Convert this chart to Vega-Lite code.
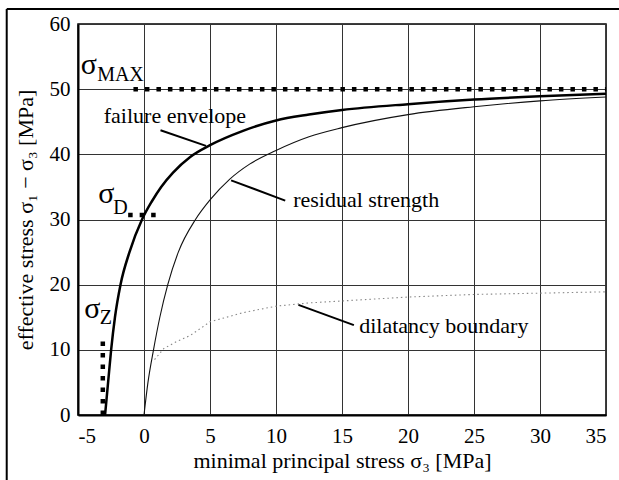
{
  "$schema": "https://vega.github.io/schema/vega-lite/v6.json",
  "width": 528,
  "height": 391,
  "autosize": {"type": "none"},
  "padding": {"left": 78, "top": 24, "right": 13, "bottom": 65},
  "background": "white",
  "config": {
    "font": "Times New Roman, Liberation Serif, serif",
    "view": {"stroke": "black", "strokeWidth": 1.5},
    "axis": {
      "labelFont": "Times New Roman, Liberation Serif, serif",
      "titleFont": "Times New Roman, Liberation Serif, serif",
      "labelColor": "black",
      "titleColor": "black",
      "labelFontSize": 21,
      "titleFontSize": 22,
      "titleFontWeight": "normal",
      "grid": true,
      "gridColor": "#333",
      "gridWidth": 1,
      "gridOpacity": 1,
      "ticks": false,
      "domainColor": "black",
      "domainWidth": 2
    }
  },
  "datasets": {
    "curves": [
      {"series": "failure", "x": -2.95, "y": 0},
      {"series": "failure", "x": -2.72, "y": 5},
      {"series": "failure", "x": -2.49, "y": 10},
      {"series": "failure", "x": -2.2, "y": 15},
      {"series": "failure", "x": -1.78, "y": 20},
      {"series": "failure", "x": -1.1, "y": 25},
      {"series": "failure", "x": -0.15, "y": 30},
      {"series": "failure", "x": 0.6, "y": 32.8},
      {"series": "failure", "x": 1.3, "y": 35},
      {"series": "failure", "x": 2.2, "y": 37.2},
      {"series": "failure", "x": 3.5, "y": 39.6},
      {"series": "failure", "x": 5, "y": 41.4},
      {"series": "failure", "x": 7.5, "y": 43.6},
      {"series": "failure", "x": 10, "y": 45.2},
      {"series": "failure", "x": 12.5, "y": 46.1},
      {"series": "failure", "x": 15, "y": 46.8},
      {"series": "failure", "x": 20, "y": 47.7},
      {"series": "failure", "x": 25, "y": 48.4},
      {"series": "failure", "x": 30, "y": 48.9},
      {"series": "failure", "x": 35, "y": 49.3},
      {"series": "residual", "x": 0, "y": 0},
      {"series": "residual", "x": 0.3, "y": 5},
      {"series": "residual", "x": 0.72, "y": 10},
      {"series": "residual", "x": 1.2, "y": 15},
      {"series": "residual", "x": 1.8, "y": 20},
      {"series": "residual", "x": 2.6, "y": 25},
      {"series": "residual", "x": 3.9, "y": 30},
      {"series": "residual", "x": 5, "y": 33},
      {"series": "residual", "x": 6.5, "y": 36.2},
      {"series": "residual", "x": 8, "y": 38.5},
      {"series": "residual", "x": 10, "y": 40.6},
      {"series": "residual", "x": 12.5, "y": 42.7},
      {"series": "residual", "x": 15, "y": 44.1},
      {"series": "residual", "x": 20, "y": 46.1},
      {"series": "residual", "x": 25, "y": 47.3},
      {"series": "residual", "x": 30, "y": 48.2},
      {"series": "residual", "x": 35, "y": 48.8},
      {"series": "dilatancy", "x": 0.8, "y": 8.5},
      {"series": "dilatancy", "x": 1.5, "y": 10.2},
      {"series": "dilatancy", "x": 2.5, "y": 11.3},
      {"series": "dilatancy", "x": 3.5, "y": 12.2},
      {"series": "dilatancy", "x": 5, "y": 14.3},
      {"series": "dilatancy", "x": 7.5, "y": 15.7},
      {"series": "dilatancy", "x": 10, "y": 16.7},
      {"series": "dilatancy", "x": 12.5, "y": 17.2},
      {"series": "dilatancy", "x": 15, "y": 17.5},
      {"series": "dilatancy", "x": 20, "y": 18.1},
      {"series": "dilatancy", "x": 25, "y": 18.5},
      {"series": "dilatancy", "x": 30, "y": 18.7},
      {"series": "dilatancy", "x": 35, "y": 18.9}
    ],
    "limits": [
      {"name": "MAX", "x": -0.8, "x2": 35, "y": 50, "y2": 50},
      {"name": "D", "x": -1.2, "x2": 1.0, "y": 30.7, "y2": 30.7},
      {"name": "Z", "x": -3.12, "x2": -3.12, "y": 0, "y2": 12.2}
    ],
    "leaders": [
      {"name": "failure envelope", "x": 1.25, "y": 43.7, "x2": 4.7, "y2": 41.3},
      {"name": "residual strength", "x": 6.6, "y": 36.0, "x2": 10.7, "y2": 32.9},
      {"name": "dilatancy boundary", "x": 11.7, "y": 16.9, "x2": 15.9, "y2": 13.8}
    ],
    "labels": [
      {"text": "failure envelope", "x": -3.05, "y": 44.8},
      {"text": "residual strength", "x": 11.3, "y": 31.9},
      {"text": "dilatancy boundary", "x": 16.3, "y": 12.6}
    ],
    "sigmas": [
      {"text": "σ", "x": -4.8, "y": 52.4},
      {"text": "σ", "x": -3.47, "y": 32.6},
      {"text": "σ", "x": -4.52, "y": 14.9}
    ],
    "subs": [
      {"text": "MAX", "x": -3.55, "y": 51.3},
      {"text": "D", "x": -2.33, "y": 30.8},
      {"text": "Z", "x": -3.36, "y": 14.0}
    ],
    "frame": [
      {"x": -10.4, "x2": 37, "y": 62.3, "y2": 62.3},
      {"x": -10.4, "x2": -10.4, "y": -12, "y2": 62.3}
    ]
  },
  "layer": [
    {
      "data": {"name": "curves"},
      "transform": [{"filter": "datum.series === 'dilatancy'"}],
      "mark": {"type": "line", "color": "#888", "strokeWidth": 1.1, "strokeDash": [1.5, 3]},
      "encoding": {
        "x": {"field": "x", "type": "quantitative", "scale": {"domain": [-5, 35], "nice": false, "zero": false},
          "axis": {"values": [-5, 0, 5, 10, 15, 20, 25, 30, 35], "labelExpr": "replace(datum.label, '−', '-')", "title": "minimal principal stress σ₃ [MPa]", "labelPadding": 10, "titlePadding": 4}},
        "y": {"field": "y", "type": "quantitative", "scale": {"domain": [0, 60], "nice": false},
          "axis": {"values": [0, 10, 20, 30, 40, 50, 60], "title": "effective stress σ₁ − σ₃ [MPa]", "labelPadding": 8, "titlePadding": 12}}
      }
    },
    {
      "data": {"name": "curves"},
      "transform": [{"filter": "datum.series === 'residual'"}],
      "mark": {"type": "line", "color": "#111", "strokeWidth": 1.1, "interpolate": "monotone"},
      "encoding": {
        "x": {"field": "x", "type": "quantitative"},
        "y": {"field": "y", "type": "quantitative"}
      }
    },
    {
      "data": {"name": "curves"},
      "transform": [{"filter": "datum.series === 'failure'"}],
      "mark": {"type": "line", "color": "black", "strokeWidth": 2.5, "interpolate": "monotone"},
      "encoding": {
        "x": {"field": "x", "type": "quantitative"},
        "y": {"field": "y", "type": "quantitative"}
      }
    },
    {
      "data": {"name": "limits"},
      "mark": {"type": "rule", "color": "black", "strokeWidth": 4.5, "strokeDash": [4.5, 7], "strokeCap": "butt"},
      "encoding": {
        "x": {"field": "x", "type": "quantitative"},
        "x2": {"field": "x2"},
        "y": {"field": "y", "type": "quantitative"},
        "y2": {"field": "y2"}
      }
    },
    {
      "data": {"name": "leaders"},
      "mark": {"type": "rule", "color": "black", "strokeWidth": 2},
      "encoding": {
        "x": {"field": "x", "type": "quantitative"},
        "x2": {"field": "x2"},
        "y": {"field": "y", "type": "quantitative"},
        "y2": {"field": "y2"}
      }
    },
    {
      "data": {"name": "labels"},
      "mark": {"type": "text", "align": "left", "baseline": "alphabetic", "fontSize": 22, "color": "black"},
      "encoding": {
        "x": {"field": "x", "type": "quantitative"},
        "y": {"field": "y", "type": "quantitative"},
        "text": {"field": "text"}
      }
    },
    {
      "data": {"name": "sigmas"},
      "mark": {"type": "text", "align": "left", "baseline": "alphabetic", "fontSize": 30, "color": "black"},
      "encoding": {
        "x": {"field": "x", "type": "quantitative"},
        "y": {"field": "y", "type": "quantitative"},
        "text": {"field": "text"}
      }
    },
    {
      "data": {"name": "subs"},
      "mark": {"type": "text", "align": "left", "baseline": "alphabetic", "fontSize": 20, "color": "black"},
      "encoding": {
        "x": {"field": "x", "type": "quantitative"},
        "y": {"field": "y", "type": "quantitative"},
        "text": {"field": "text"}
      }
    },
    {
      "data": {"name": "frame"},
      "mark": {"type": "rule", "color": "black", "strokeWidth": 2, "clip": false},
      "encoding": {
        "x": {"field": "x", "type": "quantitative"},
        "x2": {"field": "x2"},
        "y": {"field": "y", "type": "quantitative"},
        "y2": {"field": "y2"}
      }
    }
  ]
}
